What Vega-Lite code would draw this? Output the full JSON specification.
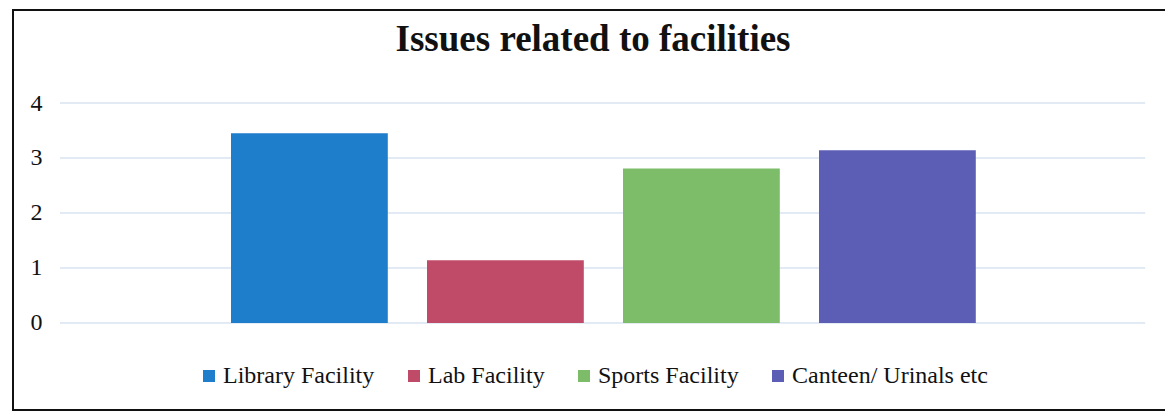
{
  "$schema": "https://vega.github.io/schema/vega-lite/v6.json",
  "width": 1160,
  "height": 400,
  "autosize": {"type": "none"},
  "padding": {"left": 13, "top": 10, "right": 0, "bottom": 4},
  "background": "white",
  "config": {"view": {"stroke": "#111111", "strokeWidth": 2}},
  "title": {
    "text": "Issues related to facilities",
    "font": "Liberation Serif",
    "fontSize": 37,
    "fontWeight": "bold",
    "color": "#111111",
    "anchor": "middle",
    "frame": "group",
    "baseline": "alphabetic",
    "offset": -78
  },
  "layer": [
    {
      "data": {"values": [{"tick": 0}, {"tick": 1}, {"tick": 2}, {"tick": 3}, {"tick": 4}]},
      "mark": {"type": "rule", "color": "#c5d6ea", "strokeWidth": 1},
      "encoding": {
        "x": {"datum": 0.0405, "type": "quantitative", "scale": {"domain": [0, 1]}, "axis": null},
        "x2": {"datum": 0.976},
        "y": {
          "field": "tick",
          "type": "quantitative",
          "scale": {"domain": [-1.582, 5.691], "nice": false, "zero": false},
          "axis": {
            "values": [0, 1, 2, 3, 4],
            "domain": false,
            "ticks": false,
            "grid": false,
            "title": null,
            "labelFont": "Liberation Serif",
            "labelFontSize": 24,
            "labelColor": "#111111",
            "labelPadding": 0,
            "offset": -29
          }
        }
      }
    },
    {
      "data": {
        "values": [
          {"facility": "Library Facility", "value": 3.45},
          {"facility": "Lab Facility", "value": 1.14},
          {"facility": "Sports Facility", "value": 2.81},
          {"facility": "Canteen/ Urinals etc", "value": 3.14}
        ]
      },
      "mark": {"type": "bar"},
      "encoding": {
        "x": {
          "field": "facility",
          "type": "nominal",
          "sort": null,
          "scale": {"paddingInner": 0.2, "paddingOuter": 1, "range": [22, 1158.8]},
          "axis": null
        },
        "y": {"field": "value", "type": "quantitative"},
        "y2": {"datum": 0},
        "color": {
          "field": "facility",
          "type": "nominal",
          "sort": null,
          "scale": {
            "domain": ["Library Facility", "Lab Facility", "Sports Facility", "Canteen/ Urinals etc"],
            "range": ["#1f7ecb", "#bf4b68", "#7dbd69", "#5c5db5"]
          },
          "legend": {
            "orient": "none",
            "legendX": 184,
            "legendY": 354,
            "direction": "horizontal",
            "columns": 4,
            "title": null,
            "symbolType": "square",
            "symbolSize": 144,
            "symbolStrokeWidth": 0,
            "labelFont": "Liberation Serif",
            "labelFontSize": 24,
            "labelColor": "#111111",
            "labelLimit": 400,
            "labelOffset": 2,
            "columnPadding": 27,
            "padding": 0
          }
        }
      }
    }
  ],
  "resolve": {"scale": {"x": "independent"}}
}
